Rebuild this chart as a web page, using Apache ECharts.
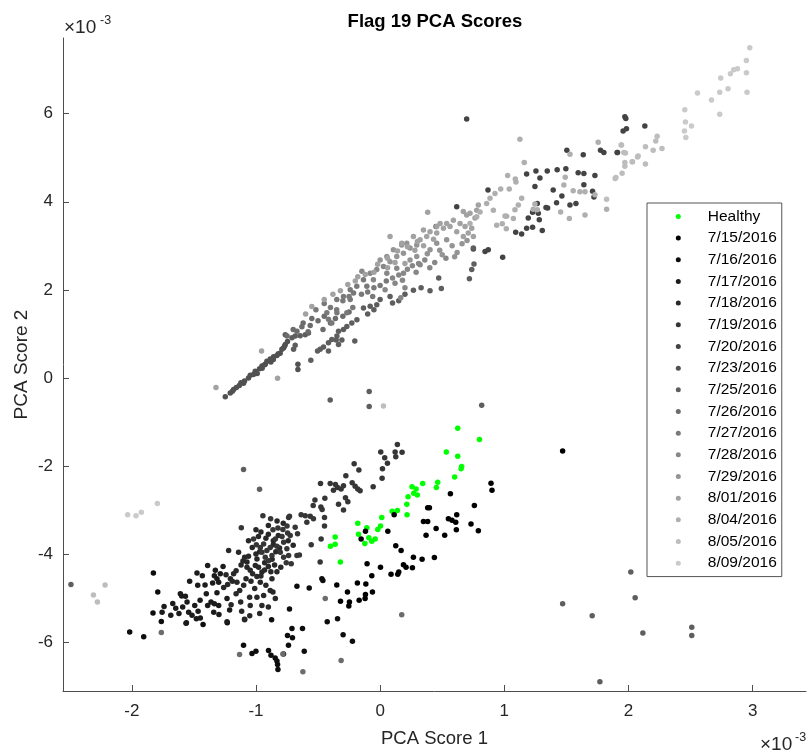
<!DOCTYPE html>
<html><head><meta charset="utf-8">
<script src="https://cdn.jsdelivr.net/npm/echarts@6/dist/echarts.min.js"></script>
<style>html,body{margin:0;padding:0;background:#fff}#c{width:809px;height:753px}</style>
</head><body><div id="c"></div>
<script>
// ---- data (units of 1e-3) ----
const seriesNames = ['Healthy','7/15/2016','7/16/2016','7/17/2016','7/18/2016','7/19/2016','7/20/2016','7/23/2016','7/25/2016','7/26/2016','7/27/2016','7/28/2016','7/29/2016','8/01/2016','8/04/2016','8/05/2016','8/09/2016'];
const seriesColors = ['#00ff00','#000000','#0d0d0d','#1b1b1b','#282828','#363636','#434343','#515151','#5e5e5e','#6c6c6c','#797979','#878787','#949494','#a2a2a2','#afafaf','#bdbdbd','#cacaca'];
const xTicks = [-2,-1,0,1,2,3];
const yTicks = [-6,-4,-2,0,2,4,6];

const healthy = [[0.625,-1.14],[0.80,-1.40],[0.533,-1.68],[0.625,-1.78],[0.657,-2.01],[0.652,-2.06],[0.60,-2.25],[0.343,-2.40],[0.464,-2.37],[0.453,-2.49],[0.257,-2.47],[0.29,-2.52],[0.271,-2.62],[0.30,-2.66],[0.225,-2.70],[0.215,-2.87],[0.217,-3.11],[0.097,-3.03],[0.139,-3.01],[0.013,-3.17],[0.003,-3.36],[-0.019,-3.44],[-0.18,-3.30],[-0.107,-3.40],[-0.174,-3.55],[-0.091,-3.63],[-0.067,-3.71],[-0.04,-3.66],[-0.123,-3.76],[-0.362,-3.61],[-0.362,-3.78],[-0.40,-3.82],[-0.32,-4.18]];

const d0715 = [[0.566,-2.63],[0.383,-2.95],[0.397,-2.95],[0.759,-2.90],[0.893,-2.39],[0.901,-2.55],[0.113,-3.11],[0.349,-3.26],[0.383,-3.26],[0.55,-3.20],[0.579,-3.23],[0.617,-3.11],[0.609,-3.28],[0.732,-3.32],[0.451,-3.42],[0.614,-3.45],[0.791,-3.47],[0.37,-3.57],[0.52,-3.57],[0.062,-3.48],[-0.118,-3.48],[-0.153,-3.66],[0.126,-3.81],[0.169,-3.92],[0.268,-4.07],[0.338,-4.12],[0.437,-4.08],[0.188,-4.24],[0.209,-4.30],[0.26,-4.31],[0.088,-4.46],[0.15,-4.41],[0.142,-4.46],[0.003,-4.30],[-0.067,-4.49],[-0.105,-4.22],[-0.115,-4.68],[-0.183,-4.66],[-0.118,-4.92],[-0.062,-4.86],[-0.121,-5.01],[-0.169,-5.05],[-0.247,-5.09],[-0.319,-5.07],[-0.263,-4.86],[-0.252,-5.18],[-0.349,-4.70],[1.47,-1.66]];

const d0716 = [[-0.469,-4.56],[-0.461,-4.60],[-0.571,-4.77],[-0.67,-4.73],[-0.73,-5.25],[-0.426,-5.54],[-0.343,-5.47],[-0.298,-5.83],[-0.223,-5.98],[-0.71,-5.69],[-0.625,-5.69],[-0.746,-5.85],[-0.706,-5.90],[-0.738,-6.07],[-0.778,-6.27],[-0.611,-6.21],[-1.10,-6.07],[-1.032,-6.26],[-1.0,-6.21],[-0.899,-6.19],[-0.879,-6.30],[-0.845,-6.36],[-0.831,-6.43],[-0.826,-6.51],[-0.823,-6.62],[-0.874,-5.49],[-1.092,-5.48],[-1.231,-5.56],[-1.426,-5.60],[-1.563,-5.57],[-1.762,-5.53],[-2.017,-5.77],[-1.904,-5.88],[-1.829,-5.34],[-1.791,-4.86],[-1.826,-4.43]];

const d0717 = [[-1.756,-5.32],[-1.74,-5.19],[-1.686,-5.39],[-1.646,-5.23],[-1.609,-4.90],[-1.598,-4.95],[-1.568,-4.96],[-1.555,-5.09],[-1.59,-5.20],[-1.542,-5.32],[-1.515,-5.39],[-1.48,-5.47],[-1.448,-5.45],[-1.466,-5.30],[-1.493,-5.17],[-1.56,-5.56],[-1.534,-4.62],[-1.475,-4.43],[-1.432,-4.49],[-1.41,-4.70],[-1.469,-4.71],[-1.389,-4.26],[-1.327,-4.37],[-1.335,-4.49],[-1.314,-4.56],[-1.287,-4.45],[-1.265,-4.28],[-1.3,-4.64],[-1.349,-4.66],[-1.389,-5.17],[-1.362,-5.09],[-1.335,-5.13],[-1.3,-5.17],[-1.34,-5.32],[-1.314,-4.88],[-1.298,-5.37],[-1.233,-5.01],[-1.233,-5.54],[-1.212,-5.27],[-1.4,-4.9],[-1.45,-5.05],[-1.62,-5.35],[-1.67,-5.12]];

const d0718 = [[-1.22,-3.92],[-1.14,-3.96],[-1.091,-4.07],[-1.072,-4.18],[-1.241,-4.47],[-1.206,-4.56],[-1.228,-4.69],[-1.18,-4.45],[-1.153,-4.64],[-1.131,-4.83],[-1.099,-4.71],[-1.08,-4.56],[-1.123,-5.09],[-1.115,-5.30],[-1.051,-4.98],[-1.046,-5.17],[-1.091,-5.49],[-1.105,-4.16],[-1.072,-4.30],[-1.046,-4.37],[-1.027,-4.45],[-1.005,-4.26],[-0.992,-4.11],[-0.979,-4.30],[-0.992,-4.51],[-0.965,-4.64],[-0.952,-4.41],[-0.92,-4.71],[-0.885,-4.83],[-0.844,-5.01],[-0.938,-4.94],[-0.871,-4.56],[-0.831,-4.40],[-0.992,-4.98],[-0.952,-5.17],[-0.863,-4.86],[-0.9,-3.55],[-0.86,-3.7],[-0.82,-3.58],[-0.96,-3.5],[-0.93,-4.2],[-0.85,-4.25],[-0.8,-4.3],[-0.88,-4.4],[-1.0,-4.0],[-0.97,-3.95],[-1.03,-3.85],[-1.06,-4.05],[-1.12,-4.25],[-1.16,-4.38],[-1.19,-4.62],[-1.26,-4.76],[-1.04,-4.62],[-1.01,-4.78],[-0.96,-4.5],[-0.93,-4.36],[-0.9,-4.28],[-0.87,-4.12],[-0.84,-3.95],[-0.81,-3.86],[-0.86,-3.79],[-0.92,-3.64],[-0.98,-3.6],[-1.06,-3.7],[-0.74,-3.7],[-0.7,-3.8],[-0.78,-3.3],[-0.83,-3.25],[-0.9,-3.35],[-1.0,-3.45],[-1.16,-4.9],[-1.2,-5.15],[-1.05,-5.4],[-0.9,-5.2],[-0.97,-5.35]];

const d0719 = [[-1.019,-3.66],[-0.997,-3.79],[-0.965,-3.85],[-0.938,-3.77],[-0.912,-3.92],[-0.952,-3.96],[-0.925,-4.07],[-0.898,-4.15],[-0.871,-4.03],[-0.885,-3.85],[-0.944,-3.13],[-0.882,-3.20],[-0.863,-3.45],[-0.823,-3.41],[-0.783,-3.44],[-0.745,-3.52],[-0.79,-3.60],[-0.844,-3.66],[-0.777,-3.73],[-0.831,-3.82],[-0.804,-3.96],[-0.751,-3.88],[-0.737,-4.03],[-0.777,-4.07],[-0.756,-4.20],[-1.118,-3.40],[-0.737,-3.17],[0.139,-1.51],[0.121,-1.68],[0.177,-1.69],[0.005,-1.68],[0.037,-1.81],[0.126,-1.79],[0.059,-1.94],[0.019,-2.06],[0.016,-2.28],[-0.209,-1.95],[-0.171,-2.09],[-0.276,-2.22],[-0.056,-2.47],[-0.225,-2.38],[-0.201,-2.46],[-0.18,-2.52],[-0.161,-2.56],[-0.36,-2.42],[-0.343,-2.49],[-0.376,-2.55],[-0.314,-2.52],[-0.295,-2.45],[-0.402,-2.40],[-0.48,-2.40],[-0.279,-2.72],[-0.26,-2.81],[-0.335,-2.87],[-0.295,-3.00],[-0.525,-2.77],[-0.539,-2.90],[-0.477,-2.93],[-0.467,-2.99],[-0.445,-2.73],[-0.448,-3.17],[-0.448,-3.36],[-0.555,-3.79],[-0.475,-3.66],[-0.483,-4.18],[-0.636,-3.11],[-0.603,-3.13],[-0.563,-3.14],[-0.537,-3.20],[-0.59,-3.28],[-0.73,-3.14],[-0.75,-3.36],[-0.684,-3.39],[-0.724,-3.58],[-0.665,-3.54],[-0.716,-4.22],[-0.67,-4.03],[-0.65,-4.02]];

const d0720 = [[0.697,5.88],[1.504,5.17],[1.636,5.07],[1.775,5.17],[1.802,5.12],[1.912,5.12],[1.957,5.61],[1.984,5.66],[1.971,5.93],[1.979,5.89],[2.132,5.72],[1.909,5.12],[1.346,4.70],[1.426,4.73],[1.496,4.75],[1.595,4.66],[1.641,4.64],[1.73,4.60],[1.255,4.70],[1.18,4.63],[0.869,4.27],[1.394,4.27],[1.464,4.13],[1.529,3.93],[1.577,3.96],[1.641,4.39],[1.711,4.24],[1.722,4.11],[1.349,3.86],[1.336,3.87],[1.421,3.98],[1.266,3.96],[1.247,4.35],[1.287,4.54],[1.228,3.76],[1.274,3.74],[1.193,3.63],[1.282,3.59],[1.228,3.42],[1.18,3.40],[1.14,3.27],[1.092,3.31],[1.306,3.35],[0.751,2.93],[0.845,2.87],[0.871,2.91],[0.987,2.74],[0.451,3.44],[0.617,3.89]];

const d0723 = [[-1.247,-0.43],[-1.207,-0.34],[-1.18,-0.26],[-1.158,-0.22],[-1.134,-0.17],[-1.121,-0.11],[-1.092,-0.07],[-1.06,0.0],[-1.046,0.06],[-1.006,0.15],[-0.971,0.21],[-0.952,0.27],[-0.925,0.31],[-0.912,0.38],[-0.885,0.43],[-0.858,0.48],[-0.831,0.51],[-0.805,0.56],[-0.791,0.65],[-0.778,0.68],[-0.764,0.76],[-0.746,0.83],[-0.662,0.31],[-0.662,0.19],[-1.19,-0.3],[-1.1,-0.12],[-1.02,0.08],[-0.95,0.22],[-0.88,0.36],[-0.82,0.55],[-0.77,0.72],[-0.99,0.1],[-0.93,0.3],[-0.86,0.42]];

const d0725 = [[-0.71,0.91],[-0.684,0.95],[-0.644,0.96],[-0.603,0.98],[-0.577,1.02],[-0.764,0.98],[-0.684,0.74],[-0.697,0.65],[-0.558,0.40],[-0.504,0.61],[-0.483,0.65],[-0.456,0.70],[-0.416,0.80],[-0.389,0.87],[-0.348,0.95],[-0.335,1.06],[-0.295,1.10],[-0.268,1.17],[-0.228,1.25],[-0.187,1.32],[-0.204,0.84],[-0.416,0.61],[-0.335,0.76],[-0.308,0.86],[-0.354,0.86],[0.0,1.78],[-0.027,1.66],[-0.08,1.63],[-0.134,1.59],[0.08,1.85],[0.268,1.99],[0.402,1.98],[0.472,2.27],[0.493,2.03],[0.719,2.25],[0.738,2.46],[0.756,2.59],[0.751,2.95],[0.2,1.9],[0.33,2.05],[0.15,1.75],[-0.1,1.45],[-0.05,1.55],[0.1,1.7],[-0.402,-0.50],[-0.088,-0.31],[-0.088,-0.65],[0.818,-0.62],[2.019,-4.41],[2.054,-4.99],[2.116,-5.79],[2.51,-5.66],[2.51,-5.85],[1.47,-5.13],[1.708,-5.40],[1.77,-6.90],[-1.1,-2.08],[-0.971,-2.53],[-2.49,-4.69]];

const d0726 = [[-0.63,1.16],[-0.563,1.19],[-0.67,1.06],[-0.75,0.95],[-0.7,1.1],[-0.62,1.25],[-0.58,1.05],[-0.5,1.3],[-0.45,1.4],[-0.4,1.25],[-0.36,1.35],[-0.30,1.4],[-0.25,1.5],[-0.46,1.1],[-0.55,1.35],[-1.132,-6.28],[-1.762,-5.78],[-0.442,-5.01],[0.174,-5.38],[-0.314,-6.42],[-0.622,-6.67],[-0.783,-6.27]];

const d0727 = [[-0.517,1.55],[-0.45,1.69],[-0.416,1.33],[-0.389,1.25],[-0.429,1.48],[-0.348,1.48],[-0.268,1.48],[-0.241,1.78],[-0.4,1.6],[-0.35,1.55],[-0.3,1.75],[-0.25,1.85],[-0.22,1.6],[-0.349,1.78],[-0.295,1.85],[-0.241,2.00],[-0.188,2.08],[-0.134,2.23],[-0.107,2.08],[-0.214,1.93],[-0.15,1.9],[-0.1,1.95],[-0.05,2.05],[0.0,2.1],[0.05,2.2],[-0.06,1.85]];

const d0728 = [[-0.147,2.42],[-0.08,2.38],[-0.027,2.46],[0.027,2.53],[-0.054,2.23],[0.054,2.38],[0.134,2.49],[0.188,2.38],[0.1,2.27],[0.15,2.34],[0.22,2.47],[0.26,2.55],[0.31,2.6],[0.36,2.68],[0.322,2.57],[0.12,2.15],[0.18,2.22],[0.29,2.4],[0.4,2.5],[0.44,2.62],[0.53,2.72],[0.166,1.82],[0.04,2.0],[0.2,2.05]];

const d0729 = [[0.0,2.68],[0.08,2.64],[0.134,2.76],[0.107,2.91],[0.188,2.83],[0.241,2.95],[0.215,3.06],[0.295,3.02],[0.241,2.68],[0.295,2.76],[0.402,2.91],[0.456,3.06],[0.536,3.14],[0.174,3.02],[0.054,2.76],[0.38,2.82],[0.48,2.9],[0.58,3.0],[0.62,2.85],[0.66,3.05],[0.7,3.12],[0.5,2.8],[0.6,2.75]];

const d0801 = [[0.322,3.14],[0.268,3.21],[0.375,3.21],[0.402,3.32],[0.349,3.36],[0.456,3.29],[0.51,3.40],[0.383,3.76],[0.59,3.58],[0.644,3.51],[0.684,3.44],[0.738,3.40],[0.71,3.29],[0.751,3.21],[0.67,3.21],[0.617,3.32],[0.563,3.44],[0.536,3.51],[0.483,3.51],[0.456,3.44],[0.08,3.21],[0.174,3.06],[0.67,3.78],[0.697,3.70],[0.724,3.74],[0.764,3.63],[0.778,3.81],[0.791,3.93],[-0.955,0.61],[-0.826,-0.01],[-1.322,-0.22],[-0.2,2.2],[-0.12,2.35],[-0.02,2.58],[0.06,2.72],[0.14,2.88],[0.22,2.98],[0.3,3.1],[0.12,2.62],[0.2,2.6],[-0.05,2.4],[0.35,3.0],[0.43,3.15],[0.28,2.9],[0.06,2.5],[-0.18,2.3],[-0.26,2.12],[-0.32,1.98],[-0.38,1.9],[-0.45,1.78],[-0.55,1.62],[-0.6,1.45]];

const d0804 = [[1.094,4.45],[1.04,4.29],[1.14,4.08],[1.113,3.93],[1.073,3.62],[1.019,3.67],[1.086,3.82],[1.233,3.83],[1.247,3.95],[1.266,3.82],[1.454,3.77],[1.48,4.38],[1.491,4.56],[1.555,4.25],[1.609,4.23],[1.65,4.23],[1.65,3.70],[1.524,3.62],[1.824,3.83],[1.73,4.16],[0.971,4.29],[0.925,4.19],[0.885,4.08],[0.858,3.96],[0.912,3.81],[0.805,3.77],[0.778,3.66],[0.724,3.51],[1.006,3.68],[1.126,5.42],[1.161,4.89],[1.529,5.08],[1.756,5.35],[1.016,3.39],[0.984,3.50],[0.939,3.47],[1.089,4.52],[1.027,4.60]];

const d0805 = [[1.944,5.29],[1.976,5.11],[2.078,5.04],[2.033,4.91],[1.971,4.89],[1.971,4.81],[1.949,4.65],[1.893,4.53],[1.824,4.06],[2.231,5.49],[2.22,5.38],[2.199,5.17],[2.27,5.21],[2.137,5.25],[2.073,5.02],[2.137,4.86],[2.03,4.91],[1.963,5.12],[1.941,5.29],[1.899,4.55],[-2.215,-4.70],[-2.309,-4.93],[-2.277,-5.09],[0.027,-0.64]];

const d0809 = [[2.977,7.50],[2.95,7.21],[2.95,6.93],[2.955,6.49],[2.878,7.02],[2.848,7.00],[2.821,6.91],[2.802,6.57],[2.743,6.81],[2.735,6.49],[2.735,5.99],[2.669,6.31],[2.556,6.47],[2.454,6.09],[2.459,5.81],[2.508,5.72],[2.451,5.61],[2.462,5.46],[-2.033,-3.11],[-1.966,-3.13],[-1.923,-3.05],[-1.794,-2.85]];

const seriesData = [healthy,d0715,d0716,d0717,d0718,d0719,d0720,d0723,d0725,d0726,d0727,d0728,d0729,d0801,d0804,d0805,d0809];

// ---- chart ----
const FONT = 'Liberation Sans, Arial, Helvetica, sans-serif';
const AX = '#4d4d4d';
const TXT = '#262626';
const chart = echarts.init(document.getElementById('c'), null, {renderer:'canvas'});
chart.setOption({
  animation:false,
  backgroundColor:'#fff',
  grid:{left:63, top:38, right:3, bottom:60},
  xAxis:{type:'value', min:-2.554, max:3.43,
    name:'PCA Score 1', nameLocation:'middle', nameGap:38, nameMoveOverlap:false,
    nameTextStyle:{fontFamily:FONT, fontSize:18.5, color:TXT},
    axisLine:{onZero:false, lineStyle:{color:AX, width:1}},
    axisTick:{show:true, inside:true, length:6, customValues:xTicks, lineStyle:{color:AX}},
    axisLabel:{customValues:xTicks, margin:12, fontFamily:FONT, fontSize:17, color:TXT},
    splitLine:{show:false}},
  yAxis:{type:'value', min:-7.11, max:7.72,
    name:'PCA Score 2', nameLocation:'middle', nameGap:32, nameRotate:90, nameMoveOverlap:false,
    nameTextStyle:{fontFamily:FONT, fontSize:19, color:TXT},
    axisLine:{show:true, onZero:false, lineStyle:{color:AX, width:1}},
    axisTick:{show:true, inside:true, length:6, customValues:yTicks, lineStyle:{color:AX}},
    axisLabel:{customValues:yTicks, margin:10, fontFamily:FONT, fontSize:17, color:TXT},
    splitLine:{show:false}},
  legend:{orient:'vertical', left:647, top:203,
    padding:[2.6,5,2.6,28.8], itemGap:0, itemWidth:5, itemHeight:5, icon:'circle',
    borderColor:'#555', borderWidth:1, backgroundColor:'#fff',
    textStyle:{fontFamily:FONT, fontSize:15.5, color:'#000', lineHeight:21.67, padding:[0,0,0,22]},
    data:seriesNames},
  graphic:[
    {type:'text', x:435, y:22, style:{text:'Flag 19 PCA Scores', fontFamily:FONT, fontSize:18.5, fontWeight:'bold', fill:'#000', textAlign:'center', textVerticalAlign:'middle'}},
    {type:'text', x:64, y:27.5, style:{text:'\u00d710', fontFamily:FONT, fontSize:19, fill:TXT, textAlign:'left', textVerticalAlign:'middle'}},
    {type:'text', x:100, y:20.5, style:{text:'-3', fontFamily:FONT, fontSize:12.5, fill:TXT, textAlign:'left', textVerticalAlign:'middle'}},
    {type:'text', x:760, y:745, style:{text:'\u00d710', fontFamily:FONT, fontSize:19, fill:TXT, textAlign:'left', textVerticalAlign:'middle'}},
    {type:'text', x:795, y:738, style:{text:'-3', fontFamily:FONT, fontSize:12.5, fill:TXT, textAlign:'left', textVerticalAlign:'middle'}}
  ],
  series: seriesNames.map((n,i)=>({
    name:n, type:'scatter', data:seriesData[i], symbol:'circle', symbolSize:5.5,
    itemStyle:{color:seriesColors[i], opacity:1}, emphasis:{disabled:true}, silent:true
  }))
});
</script></body></html>
